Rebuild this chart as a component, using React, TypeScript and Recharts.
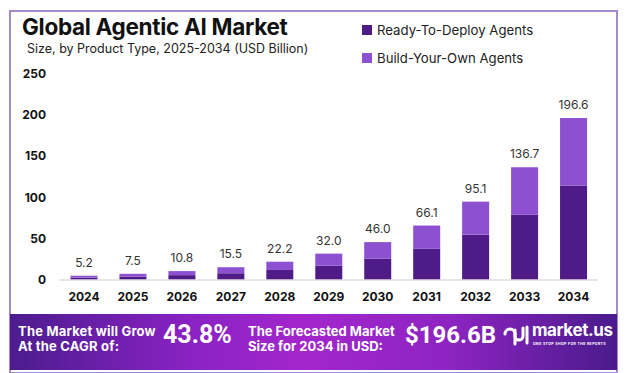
import { BarChart, Bar, XAxis, YAxis, LabelList } from "recharts";

const years = ["2024", "2025", "2026", "2027", "2028", "2029", "2030", "2031", "2032", "2033", "2034"];
const readyToDeploy = [2.8, 4.1, 5.9, 8.2, 12.2, 17.4, 26.0, 37.8, 55.0, 79.3, 114.6];
const buildYourOwn = [2.4, 3.4, 4.9, 7.3, 10.0, 14.6, 20.0, 28.3, 40.1, 57.4, 82.0];
const totals = ["5.2", "7.5", "10.8", "15.5", "22.2", "32.0", "46.0", "66.1", "95.1", "136.7", "196.6"];
const yTicks = [0, 50, 100, 150, 200, 250];

const data = years.map((year, i) => ({
  year,
  ready: readyToDeploy[i],
  build: buildYourOwn[i],
  total: totals[i],
}));

const DARK = "#4f1b86";
const LIGHT = "#8d50d0";
const FONT = "Inter, 'Noto Sans', sans-serif";

const YTick = (props: any) => (
  <text x={46} y={props.y} dy={4} textAnchor="end" fontSize={12} fontWeight={700} fill="#111" fontFamily={FONT}>
    {props.payload.value}
  </text>
);

const XTick = (props: any) => (
  <text x={props.x} y={props.y} dy={13} textAnchor="middle" fontSize={12} fontWeight={700} fill="#111" fontFamily={FONT}>
    {props.payload.value}
  </text>
);

export default function App() {
  return (
    <div style={{ position: "absolute", left: 0, top: 0, width: 629, height: 373, background: "#fff", fontFamily: FONT, overflow: "hidden" }}>
      <div style={{ position: "absolute", left: 9, top: 10, width: 605, height: 360, border: "2px solid #a68bcb" }} />
      <div style={{ position: "absolute", left: 22, top: 13, fontSize: 22.5, fontWeight: 700, color: "#111", letterSpacing: -0.3 }}>
        Global Agentic AI Market
      </div>
      <div style={{ position: "absolute", left: 27, top: 41, fontSize: 12.5, color: "#222" }}>
        Size, by Product Type, 2025-2034 (USD Billion)
      </div>
      <div style={{ position: "absolute", left: 362, top: 21, fontSize: 13.2, color: "#222" }}>
        <div style={{ display: "flex", alignItems: "center", height: 18 }}>
          <span style={{ width: 10, height: 10, background: DARK, marginRight: 5 }} />
          Ready-To-Deploy Agents
        </div>
        <div style={{ display: "flex", alignItems: "center", height: 18, marginTop: 10 }}>
          <span style={{ width: 10, height: 10, background: LIGHT, marginRight: 5 }} />
          Build-Your-Own Agents
        </div>
      </div>
      <div style={{ position: "absolute", left: 0, top: 0 }}>
        <BarChart width={629} height={373} data={data} margin={{ top: 74, right: 31, bottom: 63, left: 0 }}>
          <XAxis
            dataKey="year"
            tick={<XTick />}
            tickLine={false}
            axisLine={{ stroke: "#dedede", strokeWidth: 1.5 }}
            height={30}
            interval={0}
          />
          <YAxis
            domain={[0, 250]}
            ticks={yTicks}
            tick={<YTick />}
            tickLine={false}
            axisLine={false}
            width={59.5}
          />
          <Bar dataKey="ready" stackId="a" fill={DARK} barSize={27} isAnimationActive={false} />
          <Bar dataKey="build" stackId="a" fill={LIGHT} barSize={27} isAnimationActive={false}>
            <LabelList dataKey="total" position="top" offset={9} fontSize={12} fill="#333" fontFamily={FONT} />
          </Bar>
        </BarChart>
      </div>
      <div
        style={{
          position: "absolute",
          left: 10,
          top: 314,
          width: 607,
          height: 56,
          background: "linear-gradient(90deg, #4c1c8e 0%, #8a22c4 30%, #a326cc 48%, #8e24c2 72%, #4a1b8c 100%)",
          color: "#fff",
        }}
      >
        <div style={{ position: "absolute", left: 8, top: 10, fontSize: 13, fontWeight: 700, lineHeight: "15px", whiteSpace: "nowrap", letterSpacing: 0.2 }}>
          <div>The Market will Grow</div>
          <div>At the CAGR of:</div>
        </div>
        <div style={{ position: "absolute", left: 153, top: 6, fontSize: 25, fontWeight: 700, fontFamily: "Roboto, sans-serif" }}>
          43.8%
        </div>
        <div style={{ position: "absolute", left: 238, top: 10, fontSize: 13, fontWeight: 700, lineHeight: "15px", whiteSpace: "nowrap" }}>
          <div>The Forecasted Market</div>
          <div>Size for 2034 in USD:</div>
        </div>
        <div style={{ position: "absolute", left: 395, top: 7, fontSize: 24, fontWeight: 700, fontFamily: "Roboto, sans-serif" }}>
          $196.6B
        </div>
        <svg style={{ position: "absolute", left: 492, top: 8 }} width={28} height={26} viewBox="0 0 28 26">
          <path d="M3 12 A5 5 0 0 1 13 12 V22" stroke="#fff" strokeWidth={3} fill="none" strokeLinecap="round" />
          <path d="M13 8 V14 A4 4 0 0 0 21 14 V6" stroke="#fff" strokeWidth={3} fill="none" strokeLinecap="round" />
          <path d="M25 5 V21" stroke="#fff" strokeWidth={3} strokeLinecap="round" />
        </svg>
        <div style={{ position: "absolute", left: 522, top: 6, fontSize: 17, fontWeight: 700, letterSpacing: -0.4 }}>market.us</div>
        <div style={{ position: "absolute", left: 523, top: 28, fontSize: 3.5, fontWeight: 700, letterSpacing: 0.4, whiteSpace: "nowrap" }}>
          ONE STOP SHOP FOR THE REPORTS
        </div>
      </div>
    </div>
  );
}
